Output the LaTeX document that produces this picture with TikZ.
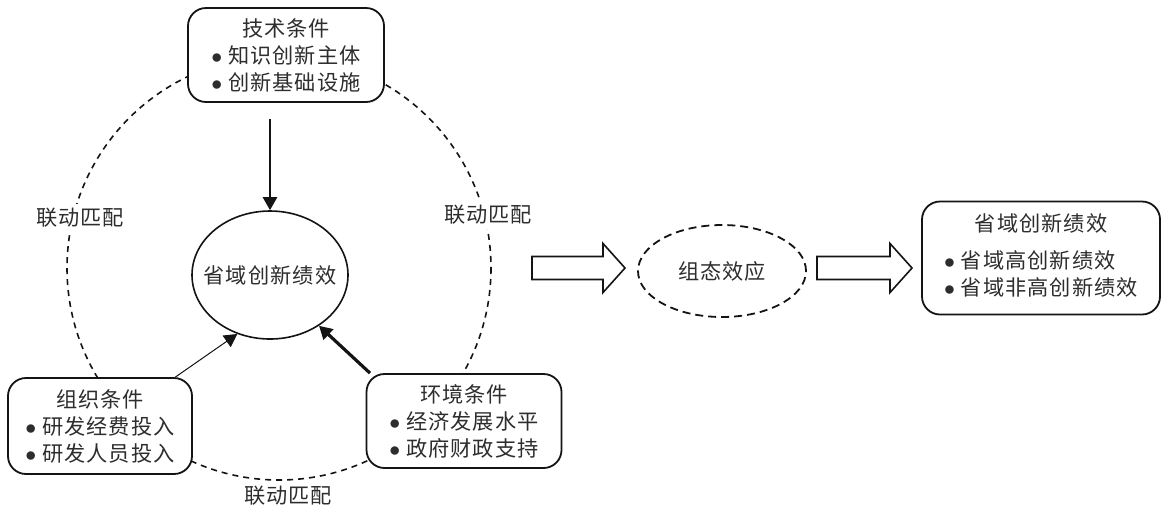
\documentclass[tikz,border=0pt]{standalone}
\usepackage{fontspec}
\setmainfont{Noto Sans CJK SC}[LetterSpace=5]
\usetikzlibrary{arrows.meta, shapes.geometric, positioning}
\definecolor{inkgray}{RGB}{20,20,20}
\definecolor{textgray}{RGB}{45,45,45}
\newcommand{\itembul}{$\bullet$\ }
\tikzset{
  condbox/.style={
    draw=inkgray,
    line width=0.9pt,
    rounded corners=9pt,
    fill=white,
    inner sep=0pt,
    align=center,
    font=\fontsize{10.6}{13.5}\selectfont\color{textgray}
  },
  linklabel/.style={
    fill=white,
    inner sep=2pt,
    font=\fontsize{10.6}{12}\selectfont\color{textgray}
  },
  ring/.style={
    draw=inkgray,
    line width=0.8pt,
    dash pattern=on 3pt off 2.5pt
  },
  drive/.style={
    draw=inkgray,
    -{Triangle[length=6.5pt,width=7pt]}
  },
  blockarrow/.style={
    draw=inkgray,
    line width=0.8pt,
    fill=white
  }
}

\begin{document}
\begin{tikzpicture}[x=0.5pt, y=-0.5pt]
  \useasboundingbox (0,0) rectangle (1170,516);

  % linkage ring behind the three conditions
  \coordinate (ringc) at (279,268);
  \draw[ring] (ringc) ellipse[x radius=212, y radius=212];

  \node[linklabel] (lk1) at (80,218) {联动匹配};
  \node[linklabel] (lk2) at (488,215) {联动匹配};
  \node[linklabel] (lk3) at (288,496) {联动匹配};

  % condition boxes
  \node[condbox, minimum width=98pt, minimum height=47pt] (tech) at (286,55)
    {技术条件\\\itembul 知识创新主体\\\itembul 创新基础设施};
  \node[condbox, minimum width=92pt, minimum height=48pt] (org) at (100,426)
    {组织条件\\\itembul 研发经费投入\\\itembul 研发人员投入};
  \node[condbox, minimum width=97.5pt, minimum height=47pt] (env) at (464,421)
    {环境条件\\\itembul 经济发展水平\\\itembul 政府财政支持};

  % outcome in the middle
  \node[ellipse, draw=inkgray, line width=0.8pt, fill=white, inner sep=0pt,
        minimum width=78pt, minimum height=64pt,
        label={[font=\fontsize{10.6}{12}\selectfont\color{textgray}]center:省域创新绩效}] (pe) at (270,275) {};

  \draw[drive, line width=1.3pt, shorten <=8pt] (tech.south -| pe.north) -- (pe.north);
  \draw[drive, line width=0.5pt] (org.33) -- (pe.241);
  \draw[drive, line width=1.6pt] (env.153) -- (pe.314);

  % configuration effect
  \node[ellipse, draw=inkgray, line width=0.9pt, dash pattern=on 4pt off 2.5pt,
        inner sep=0pt, minimum width=84pt, minimum height=46pt,
        label={[font=\fontsize{10.6}{12}\selectfont\color{textgray}]center:组态效应}] (conf) at (722,271) {};

  \node[condbox, minimum width=119pt, minimum height=56.5pt] (res) at (1041,258)
    {\begin{tabular}{@{}l@{}}
       \multicolumn{1}{c}{省域创新绩效}\\[5pt]
       \itembul 省域高创新绩效\\
       \itembul 省域非高创新绩效
     \end{tabular}};

  % block arrows
  \coordinate (ba1) at (532,268);
  \coordinate (ba2) at (817,268);
  \draw[blockarrow] (ba1) ++(0,-11.5) -- ++(71,0) -- ++(0,-13) -- ++(22,24.5)
    -- ++(-22,24.5) -- ++(0,-13) -- ++(-71,0) -- cycle;
  \draw[blockarrow] (ba2) ++(0,-11.5) -- ++(73,0) -- ++(0,-13) -- ++(22,24.5)
    -- ++(-22,24.5) -- ++(0,-13) -- ++(-73,0) -- cycle;
\end{tikzpicture}
\end{document}
